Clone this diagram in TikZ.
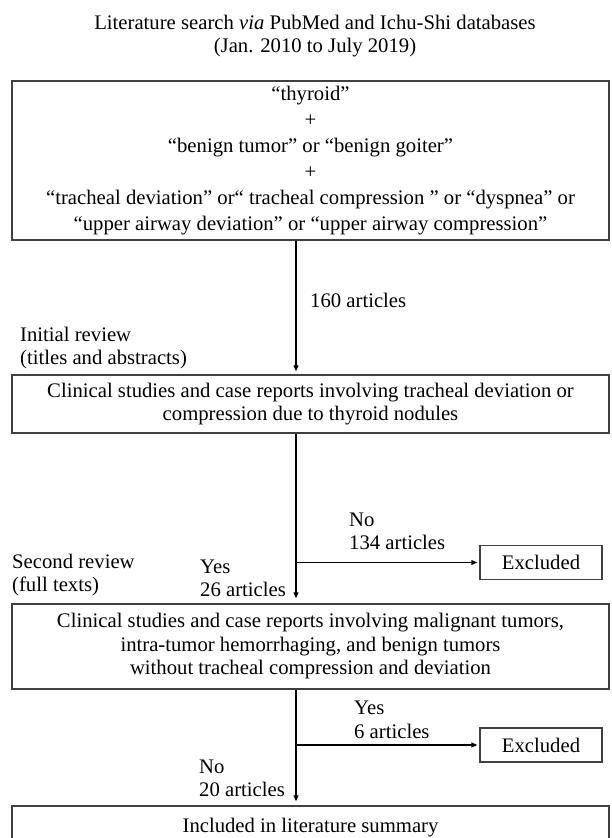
\documentclass[tikz,border=0pt]{standalone}
\usepackage{fontspec}
\setmainfont{Liberation Serif}
\usetikzlibrary{arrows.meta,calc}
\begin{document}
\begin{tikzpicture}[x=1pt,y=-1pt,
  every node/.style={font=\fontsize{20.7}{23.5}\selectfont},
  box/.style={draw=black!75,line width=1.4pt,inner sep=0pt,align=center,minimum width=597pt},
  exbox/.style={draw=black!75,line width=1.4pt,inner sep=0pt,minimum width=122pt,minimum height=34pt},
  lbl/.style={inner sep=0pt,anchor=west,align=left},
  arr/.style={draw=black,line width=1.1pt,-{Triangle[length=6pt,width=5pt]}}]
\useasboundingbox (0,0) rectangle (611,838);
\clip (0,0) rectangle (611,838);
\node[inner sep=0pt,align=center] (title) at (315,36) {Literature search \textit{via} PubMed and Ichu-Shi databases\\(Jan. 2010 to July 2019)};
\node[box,minimum height=159pt] (b1) at (310.5,160.5) {“thyroid”\\[2.5pt]+\\[2.5pt]“benign tumor” or “benign goiter”\\[2.5pt]+\\[2.5pt]“tracheal deviation” or“ tracheal compression ” or “dyspnea” or\\[2.5pt]“upper airway deviation” or “upper airway compression”};
\node[box,minimum height=58pt] (b2) at (310.5,404) {Clinical studies and case reports involving tracheal deviation or\\compression due to thyroid nodules};
\node[box,minimum height=85pt] (b3) at (310.5,646.5) {Clinical studies and case reports involving malignant tumors,\\intra-tumor hemorrhaging, and benign tumors\\without tracheal compression and deviation};
\node[box,minimum height=44pt] (b4) at (310.5,828) {Included in literature summary};
\node[exbox] (ex1) at (541,562.5) {Excluded};
\node[exbox] (ex2) at (541,745) {Excluded};
\coordinate (c) at (296,0);
\coordinate (j1) at (296,562.5);
\coordinate (j2) at (296,745);
\node[lbl] (l160) at (310,300) {160 articles};
\node[lbl] (linit) at (20,348) {Initial review\\(titles and abstracts)};
\node[lbl] (lno1) at (349,531.5) {No\\134 articles};
\node[lbl] (lsec) at (12,575) {Second review\\(full texts)};
\node[lbl] (lyes1) at (200,578.5) {Yes\\26 articles};
\node[lbl] (lyes2) at (354,720) {Yes\\6 articles};
\node[lbl] (lno2) at (199,778.5) {No\\20 articles};
\draw[arr,shorten >=3pt] (c |- b1.south) -- (c |- b2.north);
\draw[arr,shorten >=5pt] (c |- b2.south) -- (c |- b3.north);
\draw[arr,shorten >=4pt] (c |- b3.south) -- (c |- b4.north);
\draw[arr,shorten >=2pt] (j1) -- (ex1.west);
\draw[arr,shorten >=2pt] (j2) -- (ex2.west);
\end{tikzpicture}
\end{document}
